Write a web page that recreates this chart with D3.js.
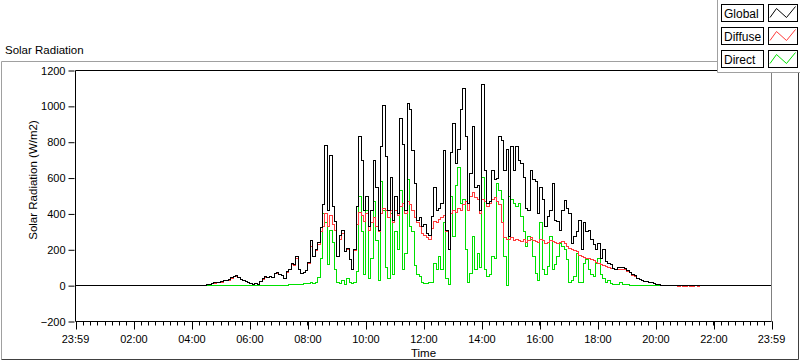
<!DOCTYPE html>
<html><head><meta charset="utf-8">
<script src="https://cdn.jsdelivr.net/npm/d3@7"></script>
<style>
html,body{margin:0;padding:0;background:#fff;}
svg{display:block;font-family:"Liberation Sans",Arial,sans-serif;}
</style></head>
<body>
<svg id="chart" width="800" height="361"></svg>
<script>
// ---- data (W/m2), sampled every 5 minutes starting at 04:30 ----
const sampleStart = "04:30";
const sampleStepMin = 5;
const seriesNames = ["Global", "Diffuse", "Direct"];
const seriesColors = ["#000000", "#ff3b3b", "#00e000"];

const globalRad = [
5,8,10,15,20,20,22,28,30,32,
45,52,55,45,32,30,22,15,14,8,
10,6,25,38,50,45,52,48,70,72,
60,58,42,78,90,125,120,160,90,68,
75,85,130,250,160,200,240,325,455,780,
420,725,440,360,165,280,310,190,205,145,
90,200,440,830,700,420,495,330,420,700,
550,310,775,1005,720,420,605,365,495,400,
930,790,420,1015,980,755,570,365,380,330,
340,290,280,385,550,420,430,460,755,310,
200,740,905,680,760,980,1100,830,460,625,
885,550,560,420,1120,640,460,470,640,590,
600,830,810,645,760,275,775,645,775,700,
680,605,430,420,645,590,580,400,550,480,
330,385,420,570,365,360,310,420,475,430,
400,235,275,300,365,200,350,300,310,255,
230,200,235,150,200,135,125,120,95,90,
100,100,102,98,85,75,60,55,40,35,
28,25,22,18,16,10,8,6,3,1,
0,0,0,0,0,0,0,0,0,0,
0,0,0,0,0,0,0,0];

const diffuseRad = [
5,8,10,14,18,20,20,26,30,30,
42,50,52,45,32,28,22,15,14,8,
10,6,22,36,48,45,50,48,66,70,
60,55,42,75,88,118,115,150,90,66,
72,82,125,220,160,195,230,300,330,400,
330,390,340,310,165,260,290,190,200,145,
90,195,340,410,390,360,400,310,350,380,
330,300,400,430,420,380,420,350,420,390,
440,460,400,470,450,420,380,350,330,290,
280,270,260,320,360,350,370,380,390,300,
200,400,420,410,430,420,450,470,420,500,
520,490,480,400,480,470,440,460,480,490,
470,450,350,270,260,255,270,250,260,250,
245,260,240,250,270,250,245,240,260,250,
235,240,250,245,240,235,240,245,235,220,
205,200,195,190,170,160,155,150,150,145,
140,130,125,120,115,105,100,98,95,90,
90,92,90,88,80,72,58,52,40,34,
28,25,22,18,15,10,7,5,2,0,
0,0,0,0,0,-4,0,-6,-5,0,
-6,-4,0,-5,0,0,0,0];

const directRad = [
0,0,0,0,0,0,0,0,0,0,
0,0,0,0,0,0,0,0,0,0,
0,0,0,0,0,0,0,0,0,0,
0,0,0,3,5,5,4,6,5,8,
10,12,10,15,12,20,45,150,400,350,
120,310,240,90,20,10,30,8,40,15,
10,20,80,495,300,60,420,40,150,470,
250,30,580,420,100,40,400,60,300,200,
530,90,180,590,330,300,110,60,50,15,
12,10,15,20,125,90,160,90,350,40,
5,495,275,560,660,460,480,200,15,70,
275,90,180,100,605,90,50,60,165,150,
570,530,480,165,0,495,480,460,440,460,
385,300,220,275,260,165,70,30,350,90,
60,105,275,90,120,165,235,220,200,145,
15,30,50,180,15,20,125,145,90,60,
50,125,150,60,40,15,30,10,8,8,
6,20,8,6,5,3,2,2,2,2,
2,1,1,1,1,0,0,0,0,0,
0,0,0,0,0,0,0,0,0,0,
0,0,0,0,0,0,0,0];

const yTicks = [-200, 0, 200, 400, 600, 800, 1000, 1200];
const xTickLabels = ["23:59","02:00","04:00","06:00","08:00","10:00","12:00","14:00","16:00","18:00","20:00","22:00","23:59"];

// ---- helpers ----
// minutes after the axis start (23:59 of previous day)
function minutesFromStart(hhmm, nextDay) {
  const [h, m] = hhmm.split(":").map(Number);
  if (hhmm === "23:59") return nextDay ? 1440 : 0;
  return h * 60 + m + 1;
}
const t0 = minutesFromStart(sampleStart);
function build(arr) {
  const pts = [{t: 0, v: 0}];
  arr.forEach((v, i) => pts.push({t: t0 + i * sampleStepMin, v}));
  pts.push({t: 1440, v: 0});
  return pts;
}
const series = [globalRad, diffuseRad, directRad].map(build);

const svg = d3.select("#chart");
const X0 = 75.5, X1 = 771.5, Y0 = 70.5, Y1 = 321.5;
const x = d3.scaleLinear().domain([0, 1440]).range([X0, X1]);
const y = d3.scaleLinear().domain([-200, 1200]).range([Y1, Y0]);

// outer panel frame
svg.append("path").attr("d", `M1.5,359.5 V61.5 H798.5`).attr("fill", "none").attr("stroke", "#a0a0a0");
svg.append("path").attr("d", `M1.5,359.5 H798.5 V61.5`).attr("fill", "none").attr("stroke", "#404040");

// title
svg.append("text").attr("x", 5).attr("y", 54).attr("font-size", 11.5).attr("fill", "#000").text("Solar Radiation");

// plot area
svg.append("rect").attr("x", X0).attr("y", Y0).attr("width", X1 - X0).attr("height", Y1 - Y0).attr("fill", "#fff");

// data lines (black drawn last/on top)
const line = d3.line().x(d => x(d.t)).y(d => y(d.v)).curve(d3.curveStepAfter);
const clip = svg.append("clipPath").attr("id", "clip").append("rect")
  .attr("x", X0).attr("y", Y0).attr("width", X1 - X0).attr("height", Y1 - Y0);
const g = svg.append("g").attr("clip-path", "url(#clip)");
[2, 1, 0].forEach(k => {
  g.append("path").datum(series[k]).attr("d", line).attr("fill", "none")
    .attr("stroke", seriesColors[k]).attr("stroke-width", 1).attr("shape-rendering", "crispEdges");
});

// frame of plot
svg.append("path").attr("d", `M${X0},${Y1} V${Y0} H${X1}`).attr("fill", "none").attr("stroke", "#000");
svg.append("path").attr("d", `M${X1},${Y0} V${Y1}`).attr("fill", "none").attr("stroke", "#808080");
svg.append("path").attr("d", `M${X0},${Y1} H${X1}`).attr("fill", "none").attr("stroke", "#000");

// y axis
const yAxis = d3.axisLeft(y).tickValues(yTicks).tickSize(6).tickPadding(3).tickFormat(d3.format("d"));
const ya = svg.append("g").attr("transform", `translate(${X0 - 1},0)`).call(yAxis);
ya.select(".domain").remove();
ya.selectAll("text").attr("font-size", 11).attr("font-family", "Liberation Sans, Arial, sans-serif").attr("fill", "#000");

// x axis: major ticks every 2 h, minor every 15 min
const majorT = xTickLabels.map((s, i) => minutesFromStart(s, i === xTickLabels.length - 1));
const minorT = d3.range(0, 1441, 15);
const xa = svg.append("g").attr("transform", `translate(0,${Y1})`);
xa.selectAll("line.minor").data(minorT).join("line").attr("class", "minor")
  .attr("x1", d => Math.round(x(d)) + 0.5).attr("x2", d => Math.round(x(d)) + 0.5)
  .attr("y1", 0).attr("y2", 4).attr("stroke", "#000");
xa.selectAll("line.major").data(majorT).join("line").attr("class", "major")
  .attr("x1", d => Math.round(x(d)) + 0.5).attr("x2", d => Math.round(x(d)) + 0.5)
  .attr("y1", 0).attr("y2", 8).attr("stroke", "#000");
xa.selectAll("text").data(xTickLabels).join("text")
  .attr("x", (d, i) => x(majorT[i])).attr("y", 21).attr("text-anchor", "middle")
  .attr("font-size", 11).attr("fill", "#000").text(d => d);

// axis titles
svg.append("text").attr("x", (X0 + X1) / 2).attr("y", 357).attr("text-anchor", "middle")
  .attr("font-size", 11.5).attr("fill", "#000").text("Time");
svg.append("text").attr("transform", "translate(37,180) rotate(-90)").attr("text-anchor", "middle")
  .attr("font-size", 11.5).attr("fill", "#000").text("Solar Radiation (W/m2)");

// legend
const lg = svg.append("g");
lg.append("rect").attr("x", 717).attr("y", 0).attr("width", 83).attr("height", 72).attr("fill", "#fff");
lg.append("path").attr("d", "M717.5,0 V72.5 H800").attr("fill", "none").attr("stroke", "#a0a0a0");
seriesNames.forEach((name, i) => {
  const top = 4 + i * 23;
  lg.append("rect").attr("x", 721.5).attr("y", top + 0.5).attr("width", 42).attr("height", 17)
    .attr("fill", "#fff").attr("stroke", "#000");
  lg.append("text").attr("x", 724).attr("y", top + 14).attr("font-size", 12).attr("fill", "#000").text(name);
  lg.append("rect").attr("x", 768.5).attr("y", top + 0.5).attr("width", 29).attr("height", 17)
    .attr("fill", "#fff").attr("stroke", "#000");
  const zz = [[1.5, 13.5], [8, 4.5], [18, 13.5], [27, 2.5]];
  lg.append("path").attr("d", d3.line()(zz.map(p => [768.5 + p[0], top + p[1]])))
    .attr("fill", "none").attr("stroke", seriesColors[i]).attr("stroke-width", 1);
});
</script>
</body></html>
